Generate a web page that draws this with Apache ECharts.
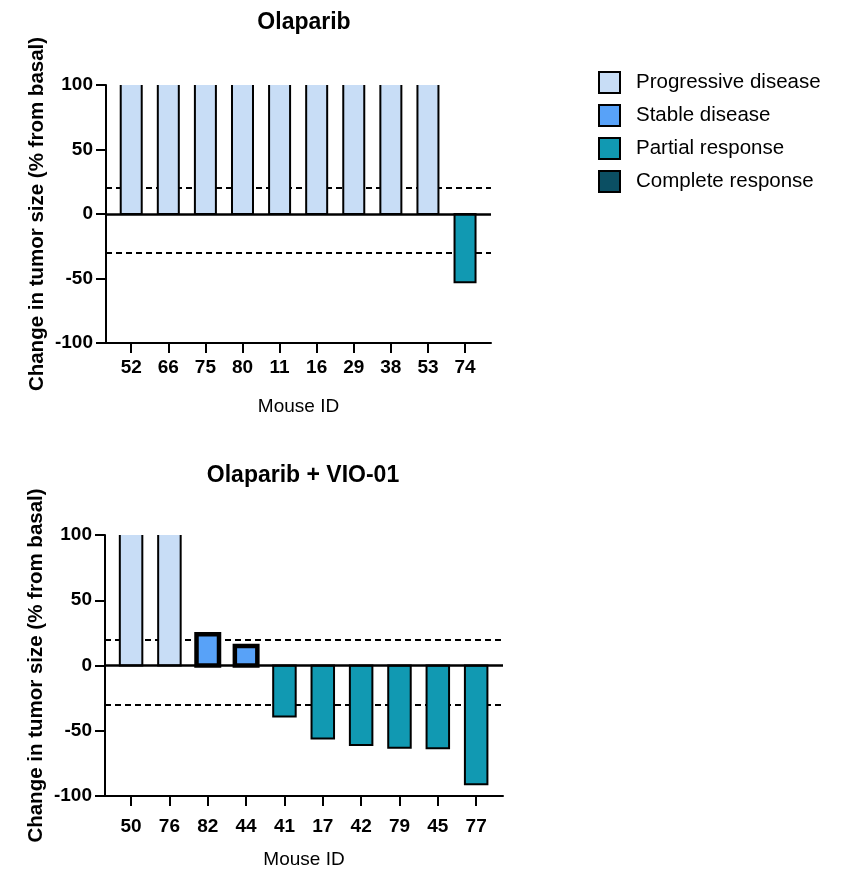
<!DOCTYPE html>
<html>
<head>
<meta charset="utf-8">
<script src="https://cdn.jsdelivr.net/npm/echarts@6/dist/echarts.min.js"></script>
<style>
  html, body { margin: 0; padding: 0; background: #fff; }
  #chart { width: 845px; height: 870px; }
</style>
</head>
<body>
<div id="chart"></div>
<script>
// ---------- DATA ----------
const classNames = ['Progressive disease', 'Stable disease', 'Partial response', 'Complete response'];
const classColors = ['#c8ddf6', '#58a2f8', '#1199b2', '#0b4f63'];

// Olaparib (top) – progressive bars run off the top of the axis (>100 %)
const topIds = ['52', '66', '75', '80', '11', '16', '29', '38', '53', '74'];
const topValues = [130, 130, 130, 130, 130, 130, 130, 130, 130, -53];
const topClass = [0, 0, 0, 0, 0, 0, 0, 0, 0, 2];

// Olaparib + VIO-01 (bottom)
const botIds = ['50', '76', '82', '44', '41', '17', '42', '79', '45', '77'];
const botValues = [130, 130, 24, 15, -39, -56, -61, -63, -63.5, -91];
const botClass = [0, 0, 1, 1, 2, 2, 2, 2, 2, 2];

const yTicks = [-100, -50, 0, 50, 100];
const thresholdLines = [20, -30];
// ---------- END DATA ----------

const FONT = 'Liberation Sans';
const idx = topIds.map((_, i) => i);

function xAxisFor(gridIndex, ids, labelMargin) {
  return {
    type: 'value', gridIndex: gridIndex, min: -0.68, max: 9.7,
    name: 'Mouse ID', nameLocation: 'middle', nameGap: 54,
    nameTextStyle: { fontFamily: FONT, fontSize: 19, color: '#000' },
    splitLine: { show: false },
    axisLine: { show: true, onZero: false, lineStyle: { color: '#000', width: 2 } },
    axisTick: { show: true, length: 10, customValues: idx, lineStyle: { color: '#000', width: 2 } },
    axisLabel: {
      customValues: idx, margin: labelMargin,
      fontFamily: FONT, fontSize: 19, fontWeight: 'bold', color: '#000',
      formatter: v => ids[Math.round(v)]
    }
  };
}
function yAxisFor(gridIndex) {
  return {
    type: 'value', gridIndex: gridIndex,
    min: yTicks[0], max: yTicks[yTicks.length - 1], interval: yTicks[1] - yTicks[0],
    name: 'Change in tumor size (% from basal)', nameLocation: 'middle', nameGap: 58,
    nameTextStyle: { fontFamily: FONT, fontSize: 20.5, fontWeight: 'bold', color: '#000' },
    splitLine: { show: false },
    axisLine: { show: true, onZero: false, lineStyle: { color: '#000', width: 2 } },
    axisTick: { show: true, length: 10, lineStyle: { color: '#000', width: 2 } },
    axisLabel: { margin: 13, fontFamily: FONT, fontSize: 19, fontWeight: 'bold', color: '#000' }
  };
}

// bar drawn through the axes' scales; an off-scale bar is clipped and left open at the clipped end
function makeRenderItem(barW, borderW) {
  return function (params, api) {
    const xv = api.value(0), yv = api.value(1);
    const cs = params.coordSys;
    const base = api.coord([xv, 0]);
    const end = api.coord([xv, yv]);
    const top = cs.y, bottom = cs.y + cs.height;
    let yEnd = end[1];
    let clipped = false;
    if (yEnd < top) { yEnd = top; clipped = true; }
    if (yEnd > bottom) { yEnd = bottom; clipped = true; }
    const l = base[0] - barW / 2, r = base[0] + barW / 2;
    const y0 = base[1];
    const pts = [[l, yEnd], [l, y0], [r, y0], [r, yEnd]];
    const children = [{
      type: 'rect',
      shape: { x: l, y: Math.min(y0, yEnd), width: barW, height: Math.abs(yEnd - y0) },
      style: { fill: api.visual('color'), stroke: null }
    }, {
      type: clipped ? 'polyline' : 'polygon',
      shape: { points: pts },
      style: { stroke: '#000', lineWidth: borderW, fill: null, lineJoin: 'miter' }
    }];
    return { type: 'group', children: children };
  };
}

function seriesFor(gridIndex, values, classes) {
  const out = [];
  const barW = gridIndex === 0 ? 21 : 22.5;
  classNames.forEach((name, c) => {
    const data = [];
    values.forEach((v, i) => { if (classes[i] === c) data.push([i, v]); });
    out.push({
      type: 'custom', name: name, xAxisIndex: gridIndex, yAxisIndex: gridIndex,
      renderItem: makeRenderItem(barW, c === 1 ? 4.5 : 2),
      encode: { x: 0, y: 1 },
      data: data, z: 2, silent: true,
      itemStyle: { color: classColors[c] },
      animation: false
    });
  });
  // dashed thresholds behind the bars
  out.push({
    type: 'line', xAxisIndex: gridIndex, yAxisIndex: gridIndex, data: [], silent: true,
    markLine: {
      z: 1, silent: true, symbol: 'none', label: { show: false }, animation: false,
      lineStyle: { color: '#000', type: [6, 4], width: 2 },
      data: thresholdLines.map(t => ({ yAxis: t }))
    }
  });
  // zero line on top of the bars
  out.push({
    type: 'line', xAxisIndex: gridIndex, yAxisIndex: gridIndex, data: [], silent: true,
    markLine: {
      z: 6, silent: true, symbol: 'none', label: { show: false }, animation: false,
      lineStyle: { color: '#000', type: 'solid', width: 2.5 },
      data: [{ yAxis: 0 }]
    }
  });
  return out;
}

const chart = echarts.init(document.getElementById('chart'), null, { renderer: 'canvas' });
chart.setOption({
  backgroundColor: '#fff',
  animation: false,
  title: [
    { text: 'Olaparib', left: 299, top: 6, textAlign: 'center',
      textStyle: { fontFamily: FONT, fontSize: 23, fontWeight: 'bold', color: '#000' } },
    { text: 'Olaparib + VIO-01', left: 298, top: 459, textAlign: 'center',
      textStyle: { fontFamily: FONT, fontSize: 23, fontWeight: 'bold', color: '#000' } }
  ],
  legend: {
    orient: 'vertical', left: 598, top: 71, padding: 0,
    itemWidth: 21, itemHeight: 21, itemGap: 10,
    icon: 'rect',
    data: classNames,
    selectedMode: false,
    itemStyle: { borderColor: '#000', borderWidth: 2 },
    textStyle: { fontFamily: FONT, fontSize: 20.5, color: '#000', padding: [0, 0, 0, 11] }
  },
  grid: [
    { left: 106, right: 354, top: 85, bottom: 527 },
    { left: 105, right: 342, top: 535, bottom: 71 }
  ],
  xAxis: [xAxisFor(0, topIds, 15), xAxisFor(1, botIds, 21)],
  yAxis: [yAxisFor(0), yAxisFor(1)],
  series: [].concat(seriesFor(0, topValues, topClass), seriesFor(1, botValues, botClass))
});
</script>
</body>
</html>
